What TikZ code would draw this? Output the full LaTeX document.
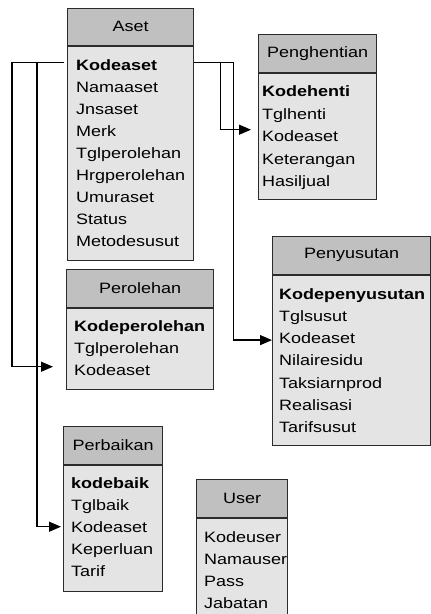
\documentclass[tikz,border=0pt]{standalone}
\usepackage{fontspec}
\newfontfamily\tblfamily[FakeStretch=1.2]{Liberation Sans}
\usetikzlibrary{calc,arrows.meta,positioning}
\definecolor{tblline}{HTML}{2B2B2B}
\definecolor{headfill}{HTML}{C0C0C0}
\definecolor{bodyfill}{HTML}{E4E4E4}

\tikzset{
  tblhead/.style={draw=tblline,fill=headfill,line width=1.2pt,anchor=north west,inner sep=0pt,
    minimum height=37.5pt,font={\tblfamily\fontsize{15}{18}\selectfont}},
  tblbody/.style={draw=tblline,fill=bodyfill,line width=1.2pt,anchor=north west,inner sep=0pt},
  field/.style={anchor=west,inner ysep=0pt,inner xsep=8pt,text height=11pt,text depth=0pt,
    font={\tblfamily\fontsize{15}{18}\selectfont}},
  fk/.style={draw=black,line width=1.3pt,-{Triangle[length=12pt,width=10pt]}}
}

\begin{document}
\begin{tikzpicture}[x=1pt,y=-1pt]
\useasboundingbox (0,0) rectangle (431,614);
\clip (0,0) rectangle (431,614);

\node[tblhead,minimum width=126pt] (aset-h) at (67,7.5) {Aset};
\node[tblbody,minimum width=126pt,minimum height=214pt] (aset) at (aset-h.south west) {};
\foreach \f [count=\i] in {{\textbf{Kodeaset}},Namaaset,Jnsaset,Merk,Tglperolehan,Hrgperolehan,Umuraset,Status,Metodesusut}
  \node[field,inner xsep=9pt] (aset-\i) at ($(aset.north west)+(0,{19+22*(\i-1)})$) {\f};

\node[tblhead,minimum width=118pt] (pengh-h) at (258,34) {Penghentian};
\node[tblbody,minimum width=118pt,minimum height=126pt] (pengh) at (pengh-h.south west) {};
\foreach \f [count=\i] in {{\textbf{Kodehenti}},Tglhenti,Kodeaset,Keterangan,Hasiljual}
  \node[field,inner xsep=4pt] (pengh-\i) at ($(pengh.north west)+(0,{18.5+22.5*(\i-1)})$) {\f};

\node[tblhead,minimum width=147pt] (perol-h) at (66,269) {Perolehan};
\node[tblbody,minimum width=147pt,minimum height=81pt] (perol) at (perol-h.south west) {};
\foreach \f [count=\i] in {{\textbf{Kodeperolehan}},Tglperolehan,Kodeaset}
  \node[field] (perol-\i) at ($(perol.north west)+(0,{18.5+22*(\i-1)})$) {\f};

\node[tblhead,minimum width=158pt] (penys-h) at (272,236) {Penyusutan};
\node[tblbody,minimum width=158pt,minimum height=170pt] (penys) at (penys-h.south west) {};
\foreach \f [count=\i] in {{\textbf{Kodepenyusutan}},Tglsusut,Kodeaset,Nilairesidu,Taksiarnprod,Realisasi,Tarifsusut}
  \node[field,inner xsep=7pt] (penys-\i) at ($(penys.north west)+(0,{19+22.2*(\i-1)})$) {\f};

\node[tblhead,minimum width=99pt] (perb-h) at (63,426) {Perbaikan};
\node[tblbody,minimum width=99pt,minimum height=126pt] (perb) at (perb-h.south west) {};
\foreach \f [count=\i] in {{\textbf{kodebaik}},Tglbaik,Kodeaset,Keperluan,Tarif}
  \node[field] (perb-\i) at ($(perb.north west)+(0,{18.5+22*(\i-1)})$) {\f};

\node[tblhead,minimum width=91pt] (user-h) at (196,479) {User};
\node[tblbody,minimum width=91pt,minimum height=110pt] (user) at (user-h.south west) {};
\foreach \f [count=\i] in {Kodeuser,Namauser,Pass,Jabatan}
  \node[field] (user-\i) at ($(user.north west)+(0,{19+22*(\i-1)})$) {\f};

\coordinate (aset-l) at ([xshift=-3pt,yshift=3pt]aset-1.west);
\coordinate (aset-r) at ([yshift=3pt]aset-1.west -| aset.east);
\coordinate (perol-in) at ([xshift=-13pt,yshift=3.5pt]perol-3.west);
\coordinate (perb-in) at ([xshift=-2pt,yshift=0.5pt]perb-3.west);
\coordinate (pengh-in) at ([xshift=-7pt,yshift=6.5pt]pengh-3.west);
\coordinate (penys-in) at ([yshift=-2pt]penys-3.west);

\draw[fk] (aset-l) -- ++(-52,0) |- (perol-in);
\draw[fk] (aset-l) -- ++(-27,0) |- (perb-in);
\draw[fk] (aset-r) -- ++(39,0) |- (penys-in);
\draw[fk] (aset-r) -- ++(26,0) |- (pengh-in);
\end{tikzpicture}
\end{document}
